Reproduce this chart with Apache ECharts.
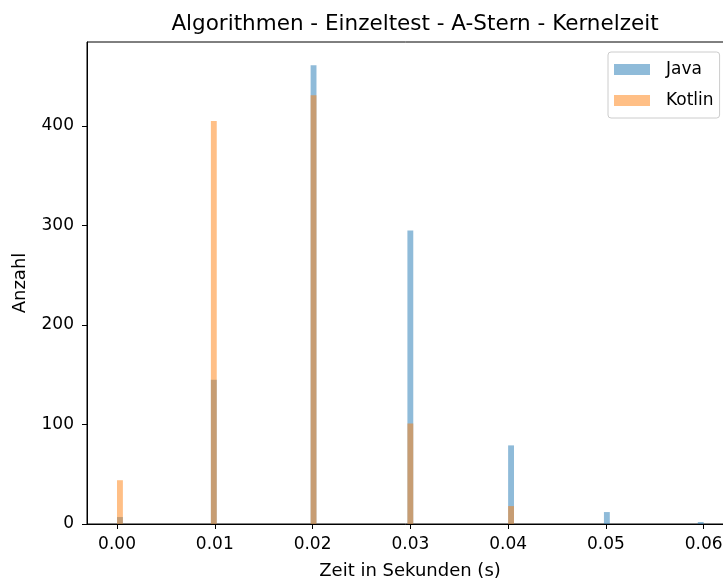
<!DOCTYPE html>
<html>
<head>
<meta charset="utf-8">
<script src="https://cdn.jsdelivr.net/npm/echarts@6/dist/echarts.min.js"></script>
<style>
  html, body { margin: 0; padding: 0; background: #fff; }
  #chart { width: 723px; height: 584px; }
</style>
</head>
<body>
<div id="chart"></div>
<script>
// Histogram bins: left edge of each occupied bin (seconds) and the bin width
const binStarts = [0.0000, 0.0096, 0.0198, 0.0297, 0.0400, 0.0498, 0.0594];
const binWidth = 0.0006;

// Counts per bin
const javaCounts = [7, 145, 461, 295, 79, 12, 2];
const kotlinCounts = [44, 405, 431, 101, 18, 0, 0];

// Tick values
const xTicks = [0.00, 0.01, 0.02, 0.03, 0.04, 0.05, 0.06];
const yTicks = [0, 100, 200, 300, 400];

const FONT = 'DejaVu Sans';

function seriesData(counts) {
  return binStarts.map((s, i) => [s, s + binWidth, counts[i]]);
}

function renderBin(params, api) {
  const start = api.value(0);
  const end = api.value(1);
  const count = api.value(2);
  if (!count) return null;
  const p0 = api.coord([start, 0]);
  const p1 = api.coord([end, count]);
  return {
    type: 'rect',
    shape: { x: p0[0], y: p1[1], width: p1[0] - p0[0], height: p0[1] - p1[1] },
    style: { fill: api.visual('color'), opacity: 0.5 }
  };
}

const chart = echarts.init(document.getElementById('chart'), null, { renderer: 'canvas' });
chart.setOption({
  animation: false,
  backgroundColor: '#fff',
  title: {
    text: 'Algorithmen - Einzeltest - A-Stern - Kernelzeit',
    left: 410,
    top: 8,
    textAlign: 'center',
    textStyle: { fontFamily: FONT, fontSize: 21.5, fontWeight: 'normal', color: '#000' }
  },
  grid: {
    left: 87, width: 646, top: 42, height: 482,
    outerBoundsMode: 'none',
    containLabel: false,
    show: true, borderColor: '#000', borderWidth: 1, backgroundColor: 'transparent'
  },
  legend: {
    orient: 'vertical',
    left: 608, top: 52,
    icon: 'rect',
    itemWidth: 36, itemHeight: 11, itemGap: 14,
    padding: [9, 6, 9, 6],
    backgroundColor: 'rgba(255,255,255,0.8)',
    borderColor: '#cccccc', borderWidth: 1, borderRadius: 3,
    textStyle: { fontFamily: FONT, fontSize: 17, color: '#000', padding: [0, 0, 0, 11] },
    data: [
      { name: 'Java', itemStyle: { color: '#8fbbd9' } },
      { name: 'Kotlin', itemStyle: { color: '#ffbf86' } }
    ]
  },
  xAxis: {
    type: 'value',
    min: -0.00307,
    max: 0.0630,
    name: 'Zeit in Sekunden (s)',
    nameLocation: 'middle',
    nameGap: 38,
    nameTextStyle: { fontFamily: FONT, fontSize: 18, color: '#000' },
    axisLine: { show: true, onZero: false, lineStyle: { color: '#000', width: 1 } },
    axisTick: { show: true, length: 5, customValues: xTicks, lineStyle: { color: '#000' } },
    axisLabel: {
      customValues: xTicks,
      formatter: v => v.toFixed(2),
      margin: 12,
      fontFamily: FONT, fontSize: 17, color: '#000'
    },
    splitLine: { show: false }
  },
  yAxis: {
    type: 'value',
    min: 0,
    max: 484.4,
    name: 'Anzahl',
    nameLocation: 'middle',
    nameGap: 58,
    nameRotate: 90,
    nameTextStyle: { fontFamily: FONT, fontSize: 18, color: '#000' },
    axisLine: { show: true, onZero: false, lineStyle: { color: '#000', width: 1 } },
    axisTick: { show: true, length: 5, customValues: yTicks, lineStyle: { color: '#000' } },
    axisLabel: {
      customValues: yTicks,
      margin: 13,
      fontFamily: FONT, fontSize: 17, color: '#000'
    },
    splitLine: { show: false }
  },
  series: [
    {
      name: 'Java',
      type: 'custom',
      renderItem: renderBin,
      itemStyle: { color: '#1f77b4' },
      encode: { x: [0, 1], y: 2 },
      data: seriesData(javaCounts)
    },
    {
      name: 'Kotlin',
      type: 'custom',
      renderItem: renderBin,
      itemStyle: { color: '#ff7f0e' },
      encode: { x: [0, 1], y: 2 },
      data: seriesData(kotlinCounts)
    }
  ]
});
</script>
</body>
</html>
